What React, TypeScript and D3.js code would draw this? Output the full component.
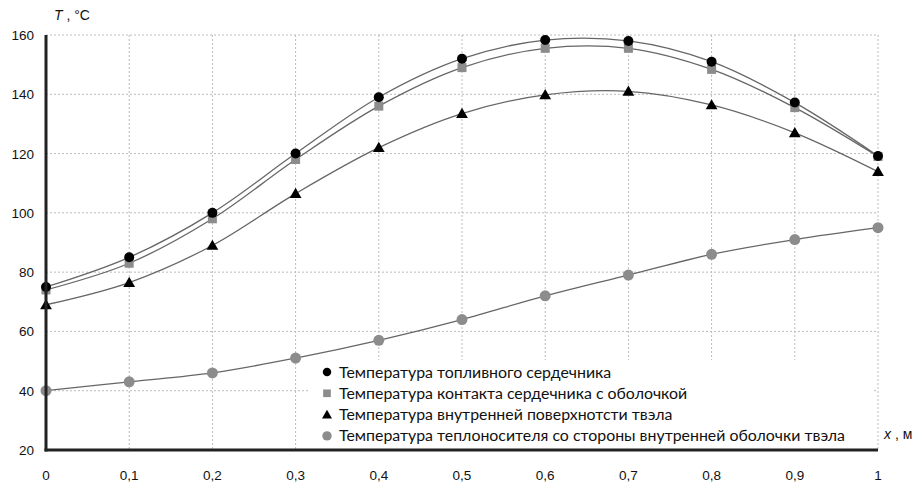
import React from "react";
import * as d3 from "d3";

const xs = [0, 0.1, 0.2, 0.3, 0.4, 0.5, 0.6, 0.7, 0.8, 0.9, 1];
const fuelCore = [75, 85, 100, 120, 139, 152, 158.3, 158, 151, 137.2, 119.2];
const contact = [74, 83, 98, 118, 136, 149, 155.5, 155.5, 148.4, 135.5, 119];
const innerSurface = [69, 76.5, 89, 106.5, 122, 133.5, 139.8, 141, 136.4, 127, 113.9];
const coolant = [40, 43, 46, 51, 57, 64, 72, 79, 86, 91, 95];
const xTicks = [0, 0.1, 0.2, 0.3, 0.4, 0.5, 0.6, 0.7, 0.8, 0.9, 1];
const yTicks = [20, 40, 60, 80, 100, 120, 140, 160];
const legendLabels = [
  "Температура топливного сердечника",
  "Температура контакта сердечника с оболочкой",
  "Температура внутренней поверхнотсти твэла",
  "Температура теплоносителя со стороны внутренней оболочки твэла",
];

const W = 917, H = 484;
const L = 46, R = 878, T = 35, B = 450;

export default function App() {
  const x = d3.scaleLinear().domain([0, 1]).range([L, R]);
  const y = d3.scaleLinear().domain([20, 160]).range([B, T]);
  const line = d3
    .line<number>()
    .x((_, i) => x(xs[i]))
    .y((d) => y(d))
    .curve(d3.curveCatmullRom.alpha(0.5));
  const fmt = (v: number) => String(v).replace(".", ",");
  const tri = d3.symbol(d3.symbolTriangle, 60)() as string;
  const series = [
    { data: fuelCore, kind: "circle", color: "#000" },
    { data: contact, kind: "square", color: "#8c8c8c" },
    { data: innerSurface, kind: "tri", color: "#000" },
    { data: coolant, kind: "gcircle", color: "#8c8c8c" },
  ];
  const marker = (kind: string, cx: number, cy: number, key: any, scale = 1) => {
    if (kind === "circle") return <circle key={key} cx={cx} cy={cy} r={5 * scale} fill="#000" />;
    if (kind === "gcircle") return <circle key={key} cx={cx} cy={cy} r={5.5 * scale} fill="#8c8c8c" />;
    if (kind === "square")
      return <rect key={key} x={cx - 4.5 * scale} y={cy - 4.5 * scale} width={9 * scale} height={9 * scale} fill="#8c8c8c" />;
    return <path key={key} d={tri} transform={`translate(${cx},${cy + 1}) scale(${scale})`} fill="#000" />;
  };
  const drawOrder = [1, 2, 3, 0];
  return (
    <svg width={W} height={H} style={{ position: "absolute", left: 0, top: 0, background: "#fff" }}>
      {yTicks.map((t) => (
        <line key={"gy" + t} x1={L} x2={R} y1={y(t)} y2={y(t)} stroke="#bbb" strokeDasharray="2,2" strokeWidth={1} />
      ))}
      {xTicks.map((t) => (
        <line key={"gx" + t} x1={x(t)} x2={x(t)} y1={T} y2={B} stroke="#bbb" strokeDasharray="2,2" strokeWidth={1} />
      ))}
      {series.map((s, si) => (
        <path key={"l" + si} d={line(s.data) as string} fill="none" stroke="#666" strokeWidth={1.3} />
      ))}
      {drawOrder.map((si) => series[si].data.map((v, i) => marker(series[si].kind, x(xs[i]), y(v), si + "-" + i)))}
      <rect x={308} y={360} width={565} height={B - 360} fill="#fff" />
      {legendLabels.map((lab, i) => (
        <g key={"lg" + i}>
          {marker(series[i].kind, 327, 372 + i * 21.3, "lm" + i, 0.85)}
          <text x={339} y={372 + i * 21.3 + 5.5} fontFamily="Lato" fontSize={15.9} fill="#111">
            {lab}
          </text>
        </g>
      ))}
      <line x1={L} x2={L} y1={T} y2={B + 1.5} stroke="#222" strokeWidth={3} />
      <line x1={L - 1.5} x2={R} y1={B} y2={B} stroke="#222" strokeWidth={3} />
      {yTicks.map((t) => (
        <text key={"ty" + t} x={34} y={y(t) + 5} textAnchor="end" fontFamily="Liberation Sans" fontSize={13.5} fill="#111">
          {t}
        </text>
      ))}
      {xTicks.map((t) => (
        <text key={"tx" + t} x={x(t)} y={480} textAnchor="middle" fontFamily="Liberation Sans" fontSize={13.5} fill="#111">
          {fmt(t)}
        </text>
      ))}
      <text x={54} y={20} fontFamily="Liberation Sans" fontSize={14} fill="#111">
        <tspan fontStyle="italic">T</tspan>
        <tspan> , °C</tspan>
      </text>
      <text x={884} y={439} fontFamily="Liberation Sans" fontSize={14} fill="#111">
        <tspan fontStyle="italic">x</tspan>
        <tspan> , м</tspan>
      </text>
    </svg>
  );
}
